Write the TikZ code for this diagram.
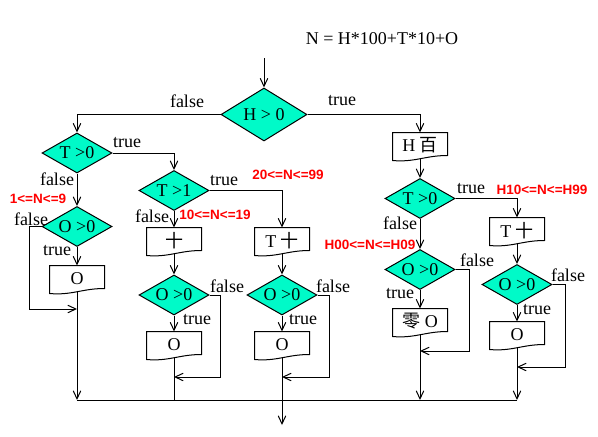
\documentclass[tikz,border=0pt]{standalone}
\usepackage{fontspec}
\setmainfont{Liberation Serif}
\newfontfamily\redsans{Liberation Sans}
\newfontfamily\cjk{Noto Sans CJK SC}
\usetikzlibrary{arrows.meta,calc,shapes.geometric}
\definecolor{DecGreen}{RGB}{0,250,200}
\definecolor{RangeRed}{RGB}{255,0,0}
\newcommand{\rng}[1]{{\redsans\bfseries\color{RangeRed}#1}}
\newcommand{\docedge}[1]{\draw (#1.north west) -- (#1.north east) -- ($(#1.south east)+(0,-3)$)
  .. controls ($(#1.south)+(5,-3)$) and ($(#1.south)+(-5,4)$) .. ($(#1.south west)+(0,2)$) -- cycle;}

\begin{document}
\begin{tikzpicture}[x=1pt,y=-1pt,line width=1pt,
  flow/.style={-{Straight Barb[length=8pt,width=7.5pt]}},
  dec/.style={diamond,draw,fill=DecGreen,inner sep=0pt,minimum width=70pt,minimum height=40pt,aspect=1.75,font=\fontsize{18}{20}\selectfont},
  doc/.style={minimum width=54pt,minimum height=25pt,inner sep=0pt,font=\fontsize{18}{20}\selectfont},
  lbl/.style={inner sep=0pt,font=\fontsize{18}{20}\selectfont},
  rlbl/.style={inner sep=0pt,font=\fontsize{13.5}{15}\selectfont}]
\useasboundingbox (0,0) rectangle (598,437);
\node[lbl] (title) at (382,39) {N = H*100+T*10+O};
% decisions
\node[dec,minimum width=86pt,minimum height=53pt,aspect=1.6] (H) at (264,114.5) {H > 0};
\node[dec] (T1) at (77,153) {T >0};
\node[dec] (O1) at (77,226.5) {O >0};
\node[dec] (T2) at (174,190.5) {T >1};
\node[dec] (O2) at (174,295) {O >0};
\node[dec] (O3) at (282,295) {O >0};
\node[dec] (T3) at (420,198.5) {T >0};
\node[dec] (O4) at (420,269.5) {O >0};
\node[dec] (O5) at (517,284.5) {O >0};
% output boxes
\node[doc] (B1) at (77,278.5) {O};
\node[doc] (B2) at (174,240.5) {\cjk 十};
\node[doc] (B3) at (282,240.5) {T {\cjk 十}};
\node[doc] (B4) at (174,344.5) {O};
\node[doc] (B5) at (282,344.5) {O};
\node[doc] (Hb) at (420,145.5) {H {\cjk 百}};
\node[doc] (B6) at (517,230.5) {T {\cjk 十}};
\node[doc] (B7) at (420,321.5) {{\cjk 零} O};
\node[doc] (B8) at (517,334.5) {O};
\foreach \b in {B1,B2,B3,B4,B5,Hb,B6,B7,B8}{\docedge{\b}}
% free ends
\coordinate (in) at (264,58);
\coordinate (j1) at (77,309);
\coordinate (j2) at (174,377);
\coordinate (j3) at (282,377);
\coordinate (j4) at (420,351);
\coordinate (j5) at (517,367);
\coordinate (m1) at (77,400);
\coordinate (m2) at (174,400);
\coordinate (m4) at (420,400);
\coordinate (m5) at (517,400);
\coordinate (out) at (282,425);
% connectors
\draw[flow] (in) -- (H.north);
\draw[flow] (H.west) -| (T1.north);
\draw[flow] (H.east) -| (Hb.north);
\draw[flow] (T1.east) -| (T2.north);
\draw[flow] (T1.south) -- (O1.north);
\draw[flow] (O1.west) -- ++(-12,0) |- (j1);
\draw[flow] (O1.south) -- (B1.north);
\draw[flow] (B1.south) -- (m1);
\draw[flow] (T2.south) -- (B2.north);
\draw[flow] (T2.east) -| (B3.north);
\draw[flow] (B2.south) -- (O2.north);
\draw[flow] (B3.south) -- (O3.north);
\draw[flow] (O2.south) -- (B4.north);
\draw[flow] (O3.south) -- (B5.north);
\draw[flow] (O2.east) -- ++(11,0) |- (j2);
\draw[flow] (O3.east) -- ++(12,0) |- (j3);
\draw (B4.south) -- (m2);
\draw[flow] (B5.south) -- (out);
\draw[flow] (Hb.south) -- (T3.north);
\draw[flow] (T3.east) -| (B6.north);
\draw[flow] (T3.south) -- (O4.north);
\draw[flow] (B6.south) -- (O5.north);
\draw[flow] (O4.south) -- (B7.north);
\draw[flow] (O5.south) -- (B8.north);
\draw[flow] (O4.east) -- ++(14,0) |- (j4);
\draw[flow] (O5.east) -- ++(13,0) |- (j5);
\draw[flow] (B7.south) -- (m4);
\draw[flow] (B8.south) -- (m5);
\draw (m1) -- (m5);
% labels
\node[lbl] (lf0) at (187,101) {false};
\node[lbl] (lt0) at (342,101) {true};
\node[lbl] (lt1) at (127,143) {true};
\node[lbl] (lf1) at (57,179) {false};
\node[lbl] (lf2) at (31,219) {false};
\node[lbl] (lt2) at (57,251) {true};
\node[lbl] (lt3) at (224,181) {true};
\node[lbl] (lf3) at (152,216) {false};
\node[lbl] (lf4) at (227,286) {false};
\node[lbl] (lt4) at (197,320) {true};
\node[lbl] (lf5) at (333,286) {false};
\node[lbl] (lt5) at (303,320) {true};
\node[lbl] (lt6) at (471,189) {true};
\node[lbl] (lf6) at (400,223) {false};
\node[lbl] (lf7) at (477,260) {false};
\node[lbl] (lt7) at (400,294) {true};
\node[lbl] (lf8) at (568,275) {false};
\node[lbl] (lt8) at (537,310) {true};
% ranges
\node[rlbl] (r1) at (38,199) {\rng{1<=N<=9}};
\node[rlbl] (r2) at (215,215) {\rng{10<=N<=19}};
\node[rlbl] (r3) at (288,175) {\rng{20<=N<=99}};
\node[rlbl] (r4) at (370,245) {\rng{H00<=N<=H09}};
\node[rlbl] (r5) at (542,190) {\rng{H10<=N<=H99}};
\end{tikzpicture}
\end{document}
